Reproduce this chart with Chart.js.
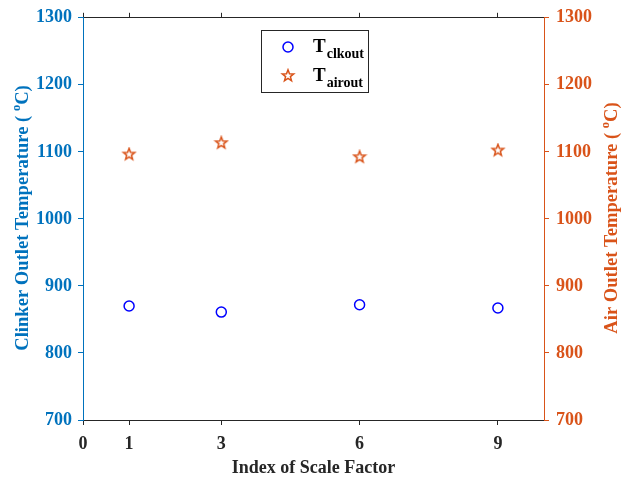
<!DOCTYPE html>
<html><head><meta charset="utf-8">
<script src="https://cdn.jsdelivr.net/npm/chart.js@4.4.0/dist/chart.umd.min.js"></script>
<style>html,body{margin:0;padding:0;background:#fff;}</style>
</head><body>
<canvas id="c" width="629" height="479"></canvas>
<script>
const xTicks = [0, 1, 3, 6, 9];
const scaleIndex = [1, 3, 6, 9];
const clinkerOutletTemp = [870, 861, 872, 867];
const airOutletTemp = [1096, 1113, 1092, 1102];
const yTicks = [700, 800, 900, 1000, 1100, 1200, 1300];
const xTitle = 'Index of Scale Factor';
const leftTitle = ['Clinker Outlet Temperature ( ', 'o', 'C)'];
const rightTitle = ['Air Outlet Temperature ( ', 'o', 'C)'];
const legendLabels = [['T', 'clkout'], ['T', 'airout']];

const FONT = '"Liberation Serif","Times New Roman",serif';
const BLUE_AX = '#0072BD', ORANGE = '#D95319', DARK = '#262626', MARK_BLUE = '#0000FF';

function starCanvas(color, r) {
  const s = Math.ceil(r * 2 + 4);
  const cv = document.createElement('canvas');
  cv.width = s; cv.height = s;
  const g = cv.getContext('2d');
  g.translate(s / 2, s / 2 - 0.2);
  g.beginPath();
  for (let i = 0; i < 10; i++) {
    const rad = i % 2 === 0 ? r : r * 0.42;
    const a = -Math.PI / 2 + i * Math.PI / 5;
    const px = rad * Math.cos(a), py = rad * Math.sin(a);
    if (i === 0) g.moveTo(px, py); else g.lineTo(px, py);
  }
  g.closePath();
  g.strokeStyle = color; g.lineWidth = 1.5; g.stroke();
  return cv;
}
const starImg = starCanvas(ORANGE, 6);

const tickFont = { family: FONT, size: 18, weight: 'bold' };
const plain = v => String(v);

function drawRich(ctx, parts, cx, cy, rot, color) {
  ctx.save();
  ctx.translate(cx, cy); ctx.rotate(rot);
  ctx.fillStyle = color; ctx.textBaseline = 'middle'; ctx.textAlign = 'left';
  let total = 0;
  parts.forEach(p => { ctx.font = `bold ${p.size}px ${FONT}`; p.w = ctx.measureText(p.t).width; total += p.w; });
  let x = -total / 2;
  parts.forEach(p => { ctx.font = `bold ${p.size}px ${FONT}`; ctx.fillText(p.t, x, p.dy); x += p.w; });
  ctx.restore();
}

const decor = {
  id: 'decor',
  afterDraw(chart) {
    const ctx = chart.ctx;
    drawRich(ctx, [{t: leftTitle[0], size: 18.6, dy: 0}, {t: leftTitle[1], size: 12.5, dy: -6}, {t: leftTitle[2], size: 18.6, dy: 0}], 23, 218, -Math.PI / 2, BLUE_AX);
    drawRich(ctx, [{t: rightTitle[0], size: 18.6, dy: 0}, {t: rightTitle[1], size: 12.5, dy: -6}, {t: rightTitle[2], size: 18.6, dy: 0}], 612, 218, -Math.PI / 2, ORANGE);
    // legend
    ctx.save();
    ctx.fillStyle = '#fff'; ctx.fillRect(261.5, 30.5, 107, 62);
    ctx.strokeStyle = DARK; ctx.lineWidth = 1; ctx.strokeRect(261.5, 30.5, 107, 62);
    ctx.beginPath(); ctx.arc(288, 47, 5, 0, Math.PI * 2);
    ctx.strokeStyle = MARK_BLUE; ctx.lineWidth = 1.5; ctx.stroke();
    ctx.drawImage(starImg, 288 - starImg.width / 2, 76 - starImg.height / 2);
    ctx.fillStyle = '#000'; ctx.textBaseline = 'alphabetic'; ctx.textAlign = 'left';
    const rows = [52, 81];
    legendLabels.forEach((lab, i) => {
      ctx.font = `bold 19px ${FONT}`;
      ctx.fillText(lab[0], 313, rows[i]);
      const w = ctx.measureText(lab[0]).width;
      ctx.font = `bold 14px ${FONT}`;
      ctx.fillText(lab[1], 313 + w + 1, rows[i] + 5.5);
    });
    ctx.restore();
  }
};

new Chart(document.getElementById('c'), {
  type: 'scatter',
  data: {
    datasets: [
      { label: 'T_clkout', data: scaleIndex.map((x, i) => ({x, y: clinkerOutletTemp[i]})),
        xAxisID: 'x', yAxisID: 'y', pointStyle: 'circle', pointRadius: 5, pointBorderWidth: 1.5,
        borderColor: MARK_BLUE, backgroundColor: 'rgba(0,0,0,0)', pointBackgroundColor: 'rgba(0,0,0,0)', pointBorderColor: MARK_BLUE },
      { label: 'T_airout', data: scaleIndex.map((x, i) => ({x, y: airOutletTemp[i]})),
        xAxisID: 'x', yAxisID: 'y2', pointStyle: starImg, pointRadius: 6,
        borderColor: ORANGE, backgroundColor: 'rgba(0,0,0,0)' }
    ]
  },
  options: {
    responsive: false, animation: false,
    layout: { padding: 0 },
    plugins: { legend: { display: false }, tooltip: { enabled: false } },
    scales: {
      x: {
        type: 'linear', position: 'bottom', min: 0, max: 10,
        afterBuildTicks: s => { s.ticks = xTicks.map(v => ({value: v})); },
        afterFit: s => { s.height = 59; },
        grid: { drawOnChartArea: false, drawTicks: true, tickLength: 5, color: DARK },
        border: { color: DARK, width: 1 },
        ticks: { font: tickFont, color: DARK, padding: 9, maxRotation: 0, autoSkip: false, callback: plain },
        title: { display: true, text: xTitle, font: { family: FONT, size: 18, weight: 'bold' }, color: DARK, padding: { top: 0, bottom: 0 } }
      },
      x2: {
        type: 'linear', position: 'top', min: 0, max: 10,
        afterBuildTicks: s => { s.ticks = xTicks.map(v => ({value: v})); },
        afterFit: s => { s.height = 16; },
        grid: { drawOnChartArea: false, drawTicks: true, tickLength: 5, color: DARK },
        border: { color: DARK, width: 1 },
        ticks: { display: false }
      },
      y: {
        type: 'linear', position: 'left', min: 700, max: 1300,
        afterBuildTicks: s => { s.ticks = yTicks.map(v => ({value: v})); },
        afterFit: s => { s.width = 83; },
        grid: { drawOnChartArea: false, drawTicks: true, tickLength: 5, color: BLUE_AX },
        border: { color: BLUE_AX, width: 1 },
        ticks: { font: tickFont, color: BLUE_AX, padding: 6, callback: plain }
      },
      y2: {
        type: 'linear', position: 'right', min: 700, max: 1300,
        afterBuildTicks: s => { s.ticks = yTicks.map(v => ({value: v})); },
        afterFit: s => { s.width = 85; },
        grid: { drawOnChartArea: false, drawTicks: true, tickLength: 5, color: ORANGE },
        border: { color: ORANGE, width: 1 },
        ticks: { font: tickFont, color: ORANGE, padding: 7, callback: plain }
      }
    }
  },
  plugins: [decor]
});
</script>
</body></html>
